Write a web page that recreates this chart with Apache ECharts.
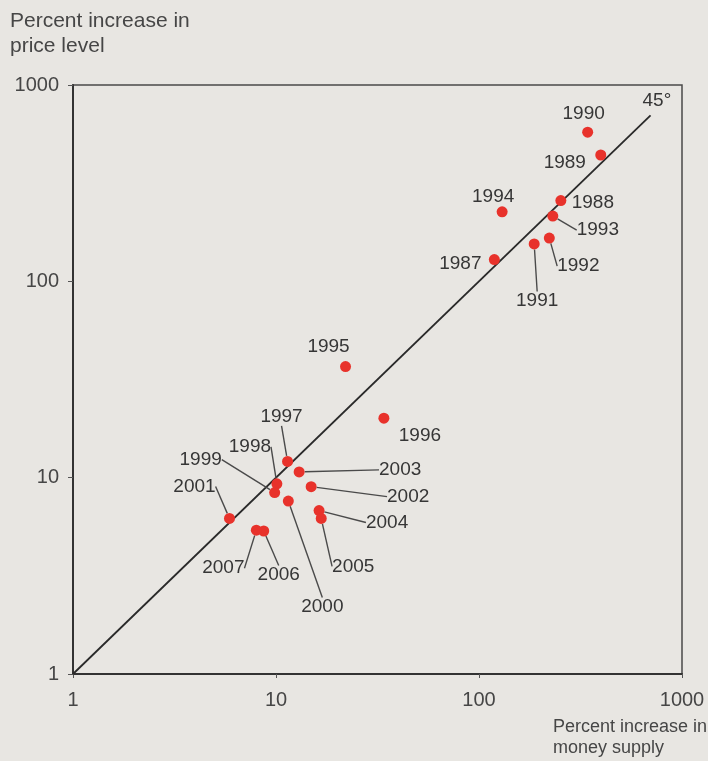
<!DOCTYPE html>
<html>
<head>
<meta charset="utf-8">
<script src="https://cdn.jsdelivr.net/npm/echarts@6/dist/echarts.min.js"></script>
<style>
  html, body { margin: 0; padding: 0; background: #e8e6e2; }
  #main { width: 708px; height: 761px; }
</style>
</head>
<body>
<div id="main"></div>
<script>
// 数据：年份、货币供给增长率(%)、价格水平增长率(%)
var years = ['1987', '1988', '1989', '1990', '1991', '1992', '1993', '1994', '1995', '1996', '1997',
             '1998', '1999', '2000', '2001', '2002', '2003', '2004', '2005', '2006', '2007'];
var moneyGrowth = [119, 253, 398, 343, 187, 222, 231, 130, 22.0, 34.0, 11.4,
                   10.1, 9.85, 11.5, 5.9, 14.9, 13.0, 16.3, 16.7, 8.7, 8.0];
var priceGrowth = [129, 258, 440, 575, 155, 166, 215, 226, 36.8, 20.1, 12.1,
                   9.3, 8.4, 7.6, 6.2, 9.0, 10.7, 6.8, 6.2, 5.35, 5.4];
// 45度线的两端
var refLine = [[1, 1], [700, 700]];
// 刻度标签
var tickLabels = ['1', '10', '100', '1000'];

// 标签相对点的偏移（样式）以及是否画引线
var labelOffsets = {
    '1987': [-34, 4, false], '1988': [32, 2, false], '1989': [-36, 8, false],
    '1990': [-4, -18, false], '1991': [3, 57, true], '1992': [29, 28, true],
    '1993': [45, 14, true], '1994': [-9, -15, false], '1995': [-17, -20, false],
    '1996': [36, 18, false], '1997': [-6, -45, true], '1998': [-27, -37, true],
    '1999': [-74, -33, true], '2000': [34, 106, true], '2001': [-35, -32, true],
    '2002': [97, 10, true], '2003': [101, -2, true], '2004': [68, 12, true],
    '2005': [32, 48, true], '2006': [15, 44, true], '2007': [-33, 38, true]
};

var textColor = '#464646';
var yearColor = '#363636';
var fontFamily = '"Liberation Sans", Arial, sans-serif';

var points = [];
for (var i = 0; i < years.length; i++) {
    points.push({
        name: years[i],
        value: [moneyGrowth[i], priceGrowth[i]],
        labelLine: { show: labelOffsets[years[i]][2] }
    });
}

function tickFormatter(v) {
    var idx = Math.round(Math.log(v) / Math.LN10);
    return tickLabels[idx] !== undefined ? tickLabels[idx] : '';
}

var chart = echarts.init(document.getElementById('main'));

var option = {
    animation: false,
    backgroundColor: '#e8e6e2',
    grid: {
        left: 73,
        right: 26,
        top: 85,
        bottom: 87,
        show: true,
        borderColor: '#4a4a4a',
        borderWidth: 1.5,
        backgroundColor: 'transparent'
    },
    graphic: [
        {
            type: 'text',
            left: 10,
            top: 9,
            style: {
                text: 'Percent increase in\nprice level',
                fill: textColor,
                font: '21px ' + fontFamily,
                lineHeight: 25
            }
        },
        {
            type: 'text',
            left: 553,
            top: 717,
            style: {
                text: 'Percent increase in\nmoney supply',
                fill: textColor,
                font: '18px ' + fontFamily,
                lineHeight: 21
            }
        }
    ],
    xAxis: {
        type: 'log',
        logBase: 10,
        min: 1,
        max: 1000,
        splitLine: { show: false },
        axisLine: { show: true, lineStyle: { color: '#333', width: 2 } },
        axisTick: { show: true, length: 4, lineStyle: { color: '#555' } },
        minorTick: { show: false },
        axisLabel: {
            color: textColor,
            fontSize: 20,
            fontFamily: fontFamily,
            margin: 16,
            formatter: tickFormatter
        }
    },
    yAxis: {
        type: 'log',
        logBase: 10,
        min: 1,
        max: 1000,
        splitLine: { show: false },
        axisLine: { show: true, lineStyle: { color: '#333', width: 2 } },
        axisTick: { show: true, length: 5, lineStyle: { color: '#555' } },
        axisLabel: {
            color: textColor,
            fontSize: 20,
            fontFamily: fontFamily,
            margin: 14,
            formatter: tickFormatter
        }
    },
    series: [
        {
            name: '45',
            type: 'line',
            data: refLine,
            showSymbol: false,
            symbol: 'none',
            lineStyle: { color: '#2a2a2a', width: 1.8 },
            endLabel: {
                show: true,
                formatter: '45°',
                color: yearColor,
                fontSize: 19,
                fontFamily: fontFamily,
                offset: [-16, -15]
            },
            z: 2
        },
        {
            name: 'years',
            type: 'scatter',
            data: points,
            symbol: 'circle',
            symbolSize: 11,
            itemStyle: { color: '#e8322b', opacity: 1 },
            label: {
                show: true,
                position: 'inside',
                formatter: '{b}',
                color: yearColor,
                opacity: 1,
                fontSize: 19,
                fontFamily: fontFamily,
                padding: [2, 4]
            },
            labelLine: {
                show: true,
                lineStyle: { color: '#4a4a4a', width: 1.4, opacity: 1 }
            },
            labelLayout: function (params) {
                var off = labelOffsets[years[params.dataIndex]];
                return { dx: off[0], dy: off[1] };
            },
            z: 3
        }
    ]
};

chart.setOption(option);

window.onresize = function () {
    chart.resize();
};
</script>
</body>
</html>
